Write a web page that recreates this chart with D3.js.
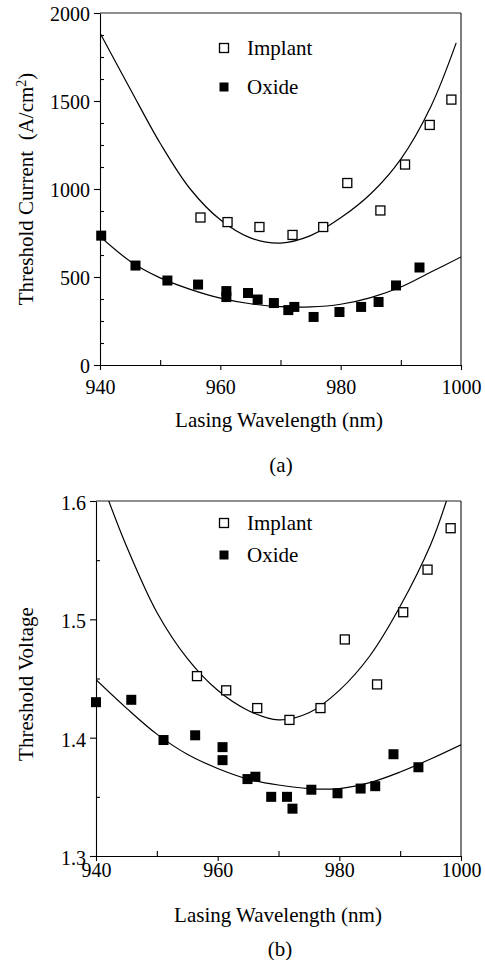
<!DOCTYPE html>
<html>
<head>
<meta charset="utf-8">
<script src="https://cdn.jsdelivr.net/npm/d3@7"></script>
<style>
  body { margin: 0; background: #fff; }
  svg { display: block; }
  text { font-family: "Liberation Serif", "DejaVu Serif", serif; fill: #000; }
</style>
</head>
<body>
<svg id="chart" width="485" height="960"></svg>
<script>
// ---- shared axis data ----
const wlDomain = [940, 1000];
const wlMajor = [940, 960, 980, 1000];
const wlMinor = [950, 970, 990];
const xTitle = "Lasing Wavelength (nm)";

// ---- (a) threshold current density ----
const jDomain = [0, 2000];
const jMajor = [0, 500, 1000, 1500, 2000];
const jMinor = [125, 250, 375, 625, 750, 875, 1125, 1250, 1375, 1625, 1750, 1875];

const implantJWl = [956.7, 961.2, 966.5, 972.0, 977.1, 981.1, 986.6, 990.7, 994.8, 998.4];
const implantJ   = [838, 812, 784, 739, 784, 1034, 878, 1139, 1364, 1508];

const oxideJWl = [940.2, 945.9, 951.2, 956.3, 961.0, 961.0, 964.6, 966.2, 968.9, 971.3, 972.3, 975.5, 979.8, 983.4, 986.3, 989.2, 993.1];
const oxideJ   = [735, 565, 480, 457, 420, 386, 409, 372, 352, 312, 330, 273, 301, 330, 358, 452, 554];

// fitted trend lines
const implantJFitWl = [940, 945, 950, 955, 960, 965, 970, 975, 980, 985, 990, 995, 999.2];
const implantJFit   = [1886, 1570, 1260, 1000, 825, 722, 693, 735, 836, 973, 1170, 1469, 1830];
const oxideJFitWl = [940, 945, 950, 955, 960, 965, 970, 975, 980, 985, 990, 995, 1000];
const oxideJFit   = [730, 590, 495, 430, 380, 348, 332, 330, 345, 383, 443, 528, 614];

// ---- (b) threshold voltage ----
const vDomain = [1.3, 1.6];
const vMajor = [1.3, 1.4, 1.5, 1.6];
const vMinor = [1.35, 1.45, 1.55];

const implantVWl = [956.6, 961.4, 966.5, 971.8, 976.9, 980.9, 986.2, 990.5, 994.5, 998.3];
const implantV   = [1.452, 1.440, 1.425, 1.415, 1.425, 1.483, 1.445, 1.506, 1.542, 1.577];

const oxideVWl = [940.0, 945.8, 951.1, 956.3, 960.8, 960.8, 964.9, 966.2, 968.8, 971.4, 972.3, 975.4, 979.7, 983.5, 985.9, 988.9, 993.0];
const oxideV   = [1.430, 1.432, 1.398, 1.402, 1.392, 1.381, 1.365, 1.367, 1.350, 1.350, 1.340, 1.356, 1.353, 1.357, 1.359, 1.386, 1.375];

const implantVFitWl = [942.1, 945, 950, 955, 960, 965, 970, 975, 980, 985, 990, 995, 997.6];
const implantVFit   = [1.600, 1.562, 1.506, 1.467, 1.440, 1.423, 1.415, 1.421, 1.440, 1.469, 1.511, 1.563, 1.600];
const oxideVFitWl = [940, 945, 950, 955, 960, 965, 970, 975, 980, 985, 990, 995, 1000];
const oxideVFit   = [1.449, 1.425, 1.403, 1.386, 1.374, 1.365, 1.360, 1.357, 1.357, 1.362, 1.371, 1.382, 1.394];

const seriesNames = ["Implant", "Oxide"];

const svg = d3.select("#chart");
const zip = (a, b) => a.map((v, i) => [v, b[i]]);

function drawPanel(cfg) {
  const x = d3.scaleLinear().domain(wlDomain).range([cfg.left, cfg.right]);
  const y = d3.scaleLinear().domain(cfg.yDomain).range([cfg.bottom, cfg.top]);
  const g = svg.append("g");

  const clipId = "clip-" + cfg.id;
  g.append("clipPath").attr("id", clipId)
    .append("rect")
    .attr("x", cfg.left).attr("y", cfg.top)
    .attr("width", cfg.right - cfg.left).attr("height", cfg.bottom - cfg.top);

  // frame: top and right edges
  g.append("line").attr("x1", cfg.left).attr("x2", cfg.right)
    .attr("y1", cfg.top).attr("y2", cfg.top)
    .attr("stroke", "#222").attr("stroke-width", 1.1);
  g.append("line").attr("x1", cfg.right).attr("x2", cfg.right)
    .attr("y1", cfg.top).attr("y2", cfg.bottom)
    .attr("stroke", "#111").attr("stroke-width", 1.1);

  // x axis: labelled ticks outward, minor ticks inward
  const xAxis = g.append("g").attr("transform", `translate(0,${cfg.bottom})`)
    .call(d3.axisBottom(x).tickValues(wlMajor).tickSize(5).tickSizeOuter(0)
      .tickPadding(cfg.xPad).tickFormat(d3.format("d")));
  g.append("g").attr("transform", `translate(0,${cfg.bottom})`)
    .call(d3.axisBottom(x).tickValues(wlMinor).tickSize(-5).tickFormat(""))
    .select(".domain").remove();

  // y axis
  const yAxis = g.append("g").attr("transform", `translate(${cfg.left},0)`)
    .call(d3.axisLeft(y).tickValues(cfg.yMajor).tickSize(6).tickSizeOuter(0)
      .tickPadding(4).tickFormat(cfg.yFormat));
  g.append("g").attr("transform", `translate(${cfg.left},0)`)
    .call(d3.axisLeft(y).tickValues(cfg.yMinor).tickSize(-4).tickFormat(""))
    .select(".domain").remove();

  g.selectAll(".tick line, .domain").attr("stroke", "#000").attr("stroke-width", 1.1);
  [xAxis, yAxis].forEach(a => a.attr("font-family", null).attr("font-size", null));
  g.selectAll(".tick text").style("font-size", "20px")
    .style("font-family", '"Liberation Serif", serif').attr("fill", "#000");
  yAxis.selectAll(".tick text").attr("dy", cfg.yDy);

  // axis titles
  g.append("text")
    .attr("x", cfg.xTitleX).attr("y", cfg.xTitleY)
    .attr("text-anchor", "middle").style("font-size", "21px")
    .text(xTitle);
  g.append("text")
    .attr("x", cfg.xTitleX + 2).attr("y", cfg.tagY)
    .attr("text-anchor", "middle").style("font-size", "21px")
    .text(cfg.tag);

  const yt = g.append("text")
    .attr("transform", `translate(${cfg.yTitleX},${cfg.yTitleY}) rotate(-90)`)
    .attr("text-anchor", "middle").style("font-size", "21px")
    .attr("xml:space", "preserve");
  cfg.yTitle(yt);

  // fitted curves
  const line = d3.line().x(d => x(d[0])).y(d => y(d[1])).curve(d3.curveCatmullRom.alpha(0.5));
  const curves = g.append("g").attr("clip-path", `url(#${clipId})`);
  cfg.fits.forEach(f => {
    curves.append("path").attr("d", line(f))
      .attr("fill", "none").attr("stroke", "#000").attr("stroke-width", 1.2);
  });

  // data points
  const open = 9, solid = 10;
  g.append("g").selectAll("rect").data(cfg.implant).join("rect")
    .attr("x", d => x(d[0]) - open / 2).attr("y", d => y(d[1]) - open / 2)
    .attr("width", open).attr("height", open)
    .attr("fill", "#fff").attr("stroke", "#000").attr("stroke-width", 1.3);
  g.append("g").selectAll("rect").data(cfg.oxide).join("rect")
    .attr("x", d => x(d[0]) - solid / 2).attr("y", d => y(d[1]) - solid / 2)
    .attr("width", solid).attr("height", solid)
    .attr("fill", "#000");

  // legend
  const lg = g.append("g");
  seriesNames.forEach((name, i) => {
    const cy = cfg.legendY[i];
    const s = i === 0 ? open : solid - 1;
    lg.append("rect")
      .attr("x", cfg.legendX - s / 2).attr("y", cy - s / 2)
      .attr("width", s).attr("height", s)
      .attr("fill", i === 0 ? "#fff" : "#000")
      .attr("stroke", i === 0 ? "#000" : "none").attr("stroke-width", 1.3);
    lg.append("text").attr("x", cfg.legendX + 23).attr("y", cy + 7)
      .style("font-size", "21px").text(name);
  });
}

drawPanel({
  id: "a", left: 100, right: 461, top: 13, bottom: 365,
  yDomain: jDomain, yMajor: jMajor, yMinor: jMinor, yFormat: d3.format("d"), yDy: "0.36em",
  xPad: 10, xTitleX: 279, xTitleY: 427, tag: "(a)", tagY: 472,
  yTitleX: 33, yTitleY: 189,
  yTitle: t => {
    t.append("tspan").text("Threshold Current  (A/cm");
    t.append("tspan").attr("baseline-shift", "super").style("font-size", "14px").text("2");
    t.append("tspan").text(")");
  },
  fits: [zip(implantJFitWl, implantJFit), zip(oxideJFitWl, oxideJFit)],
  implant: zip(implantJWl, implantJ), oxide: zip(oxideJWl, oxideJ),
  legendX: 224, legendY: [48, 87]
});

drawPanel({
  id: "b", left: 96, right: 461, top: 501, bottom: 856,
  yDomain: vDomain, yMajor: vMajor, yMinor: vMinor, yFormat: d3.format(".1f"), yDy: "0.42em",
  xPad: 2, xTitleX: 278, xTitleY: 922, tag: "(b)", tagY: 956,
  yTitleX: 33, yTitleY: 684,
  yTitle: t => t.text("Threshold Voltage"),
  fits: [zip(implantVFitWl, implantVFit), zip(oxideVFitWl, oxideVFit)],
  implant: zip(implantVWl, implantV), oxide: zip(oxideVWl, oxideV),
  legendX: 224, legendY: [523, 555]
});
</script>
</body>
</html>
